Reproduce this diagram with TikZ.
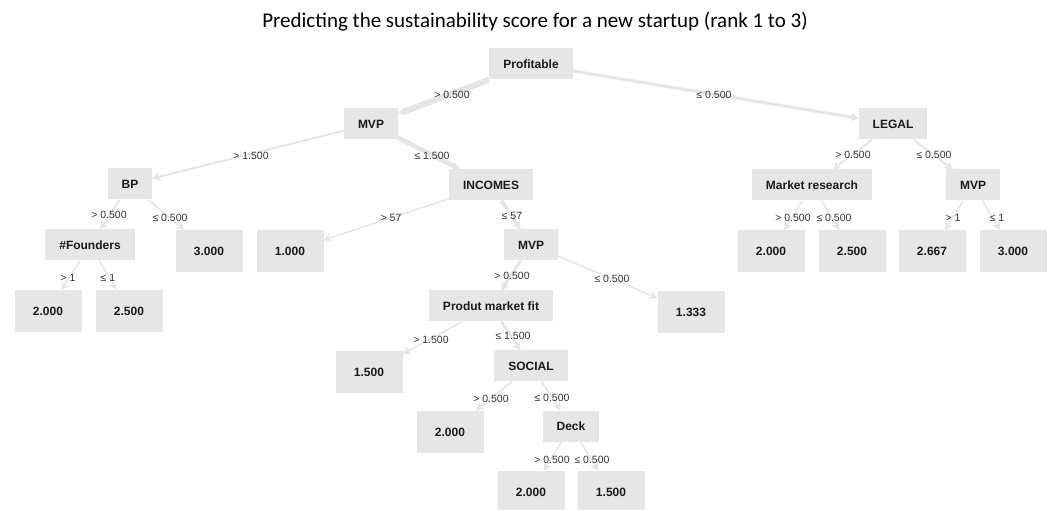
\documentclass[tikz,border=0pt]{standalone}
\usepackage{fontspec}
\setmainfont{Liberation Sans}
\newfontfamily\titlefont{Carlito}
\usetikzlibrary{arrows.meta}
\definecolor{boxgray}{HTML}{E6E6E6}
\definecolor{edgegray}{HTML}{E5E5E5}
\definecolor{lblgray}{HTML}{333333}
\definecolor{txtdark}{HTML}{1A1A1A}
\begin{document}
\begin{tikzpicture}[x=1pt,y=-1pt,
  split/.style={fill=boxgray, text=txtdark, font=\fontsize{12}{14}\selectfont\bfseries,
    minimum height=31pt, inner xsep=14pt, inner ysep=0pt},
  leaf/.style={fill=boxgray, text=txtdark, font=\fontsize{12}{14}\selectfont\bfseries,
    minimum width=67pt, minimum height=42pt, inner sep=0pt},
  lbl/.style={font=\fontsize{10.5}{12}\selectfont, text=lblgray, inner sep=0pt},
  branch/.style={draw=edgegray, line width=#1, -{Stealth[length=8pt,width=9pt]}},
  branch/.default=1.5pt
]
\useasboundingbox (0,0) rectangle (1052,510);

% title
\node[font=\titlefont\fontsize{21}{24}\selectfont, text=black] (title) at (535,22)
  {Predicting the sustainability score for a new startup (rank 1 to 3)};

% split nodes
\node[split] (prof)   at (531,64)  {Profitable};
\node[split] (mvpa)   at (371,124) {MVP};
\node[split] (legal)  at (893,124) {LEGAL};
\node[split] (bp)     at (130,184) {BP};
\node[split] (inc)    at (491,185) {INCOMES};
\node[split] (mres)   at (812,185) {Market research};
\node[split] (mvpc)   at (973,185) {MVP};
\node[split] (found)  at (90,245)  {\#Founders};
\node[split] (mvpb)   at (531,245) {MVP};
\node[split] (pmf)    at (491,306) {Produt market fit};
\node[split] (social) at (531,366) {SOCIAL};
\node[split] (deck)   at (571,426) {Deck};

% leaves
\node[leaf] (bpr)   at (209,251) {3.000};
\node[leaf] (incl)  at (290,251) {1.000};
\node[leaf] (fl)    at (48,311)  {2.000};
\node[leaf] (fr)    at (129,311) {2.500};
\node[leaf] (mvpbr) at (691,312) {1.333};
\node[leaf] (pmfl)  at (369,372) {1.500};
\node[leaf] (socl)  at (450,432) {2.000};
\node[leaf] (deckl) at (531,492) {2.000};
\node[leaf] (deckr) at (611,492) {1.500};
\node[leaf] (mresl) at (771,251) {2.000};
\node[leaf] (mresr) at (852,251) {2.500};
\node[leaf] (mvpcl) at (932,251) {2.667};
\node[leaf] (mvpcr) at (1013,251) {3.000};

% branches
\draw[branch=6pt]   (prof) -- (mvpa);
\draw[branch=3pt]   (prof) -- (legal);
\draw[branch=2pt]   (mvpa) -- (bp);
\draw[branch=4.5pt] (mvpa) -- (inc);
\draw[branch=1.8pt] (bp) -- (found);
\draw[branch=1.5pt] (bp) -- (bpr);
\draw[branch=1.5pt] (found) -- (fl);
\draw[branch=1.5pt] (found) -- (fr);
\draw[branch=1.5pt] (inc) -- (incl);
\draw[branch=4pt]   (inc) -- (mvpb);
\draw[branch=3pt]   (mvpb) -- (pmf);
\draw[branch=1.5pt] (mvpb) -- (mvpbr);
\draw[branch=1.5pt] (pmf) -- (pmfl);
\draw[branch=3pt]   (pmf) -- (social);
\draw[branch=1.5pt] (social) -- (socl);
\draw[branch=2pt]   (social) -- (deck);
\draw[branch=1.5pt] (deck) -- (deckl);
\draw[branch=1.5pt] (deck) -- (deckr);
\draw[branch=2pt]   (legal) -- (mres);
\draw[branch=2pt]   (legal) -- (mvpc);
\draw[branch=1.5pt] (mres) -- (mresl);
\draw[branch=1.5pt] (mres) -- (mresr);
\draw[branch=1.5pt] (mvpc) -- (mvpcl);
\draw[branch=1.5pt] (mvpc) -- (mvpcr);

% branch conditions
\node[lbl] (l1)  at (452,95)  {> 0.500};
\node[lbl] (l2)  at (714,95)  {≤ 0.500};
\node[lbl] (l3)  at (251,156) {> 1.500};
\node[lbl] (l4)  at (432,156) {≤ 1.500};
\node[lbl] (l5)  at (109,215) {> 0.500};
\node[lbl] (l6)  at (170,218) {≤ 0.500};
\node[lbl] (l7)  at (68,278)  {> 1};
\node[lbl] (l8)  at (108,278) {≤ 1};
\node[lbl] (l9)  at (391,218) {> 57};
\node[lbl] (l10) at (512,216) {≤ 57};
\node[lbl] (l11) at (512,276) {> 0.500};
\node[lbl] (l12) at (612,279) {≤ 0.500};
\node[lbl] (l13) at (431,340) {> 1.500};
\node[lbl] (l14) at (513,336) {≤ 1.500};
\node[lbl] (l15) at (491,399) {> 0.500};
\node[lbl] (l16) at (552,398) {≤ 0.500};
\node[lbl] (l17) at (552,460) {> 0.500};
\node[lbl] (l18) at (592,460) {≤ 0.500};
\node[lbl] (l19) at (853,155) {> 0.500};
\node[lbl] (l20) at (934,155) {≤ 0.500};
\node[lbl] (l21) at (793,218) {> 0.500};
\node[lbl] (l22) at (834,218) {≤ 0.500};
\node[lbl] (l23) at (953,218) {> 1};
\node[lbl] (l24) at (997,218) {≤ 1};
\end{tikzpicture}
\end{document}
